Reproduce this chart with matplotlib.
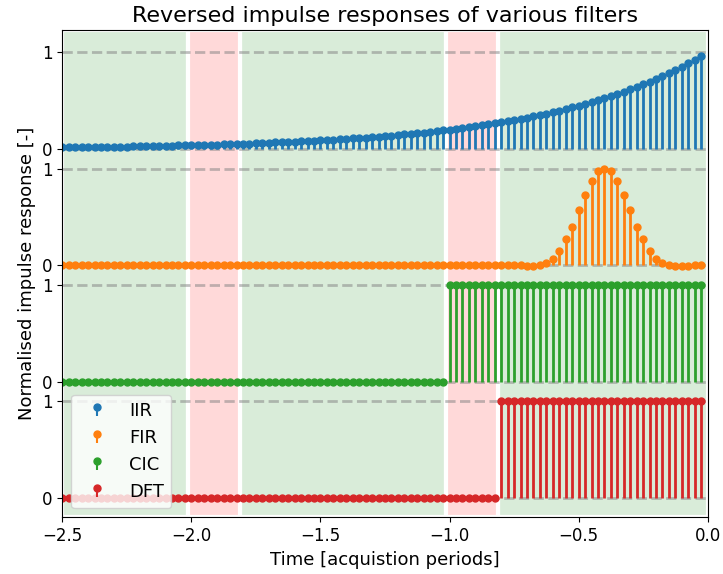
import numpy as np
import matplotlib
matplotlib.use("Agg")
import matplotlib.pyplot as plt

# sample times: 40 samples per acquisition period, 2.5 periods back
t = np.arange(-100, 0) / 40

iir = [0.018, 0.019, 0.020, 0.021, 0.021, 0.022, 0.023, 0.024, 0.025, 0.026,
       0.027, 0.028, 0.030, 0.031, 0.032, 0.033, 0.035, 0.036, 0.038, 0.039,
       0.041, 0.042, 0.044, 0.046, 0.048, 0.050, 0.052, 0.054, 0.056, 0.058,
       0.061, 0.063, 0.066, 0.069, 0.071, 0.074, 0.077, 0.080, 0.084, 0.087,
       0.091, 0.094, 0.098, 0.102, 0.106, 0.111, 0.115, 0.120, 0.125, 0.130,
       0.135, 0.141, 0.147, 0.153, 0.159, 0.165, 0.172, 0.179, 0.186, 0.194,
       0.202, 0.210, 0.219, 0.228, 0.237, 0.247, 0.257, 0.267, 0.278, 0.289,
       0.301, 0.313, 0.326, 0.340, 0.353, 0.368, 0.383, 0.399, 0.415, 0.432,
       0.449, 0.468, 0.487, 0.507, 0.527, 0.549, 0.571, 0.595, 0.619, 0.644,
       0.670, 0.698, 0.726, 0.756, 0.787, 0.819, 0.852, 0.887, 0.923, 0.961]

fir = ([0.0] * 72
       + [-0.003, -0.007, 0.0,
          0.024, 0.07, 0.15, 0.27, 0.40, 0.57, 0.73, 0.875, 0.97, 1.0,
          0.97, 0.875, 0.73, 0.57, 0.40, 0.27, 0.15, 0.07, 0.024,
          0.003, -0.007, -0.007, -0.003, 0.0, 0.0])

cic = [0] * 60 + [1] * 40
dft = [0] * 68 + [1] * 32

names = ['IIR', 'FIR', 'CIC', 'DFT']
series = [iir, fir, cic, dft]
colors = ['C0', 'C1', 'C2', 'C3']
offsets = [3.6, 2.4, 1.2, 0.0]

# good / bad regions
good_spans = [(-2.5, -2.0125), (-1.8125, -1.0125), (-0.8125, 0.0)]
bad_spans = [(-2.0125, -1.8125), (-1.0125, -0.8125)]

fig = plt.figure(figsize=(7.23, 5.74), dpi=100)
ax = fig.add_axes([0.0862, 0.0988, 0.8926, 0.8489])

for a, b in good_spans:
    ax.axvspan(a, b, facecolor=(0, 0.5, 0, 0.15), edgecolor='white', linewidth=3, zorder=0)
for a, b in bad_spans:
    ax.axvspan(a, b, facecolor=(1, 0, 0, 0.15), edgecolor='white', linewidth=3, zorder=0)

for off in offsets:
    ax.axhline(off, color='gray', alpha=0.5, ls='--', lw=2, zorder=1)
    ax.axhline(off + 1, color='gray', alpha=0.5, ls='--', lw=2, zorder=1)

for name, y, c, off in zip(names, series, colors, offsets):
    ml, sl, bl = ax.stem(t, np.array(y) + off, bottom=off, linefmt=c + '-',
                         markerfmt=c + 'o', basefmt=' ', label=name)
    ml.set_markersize(5)
    sl.set_linewidth(2)

ticks = []
for off in offsets:
    ticks += [off, off + 1]
ax.set_yticks(ticks)
ax.set_yticklabels(['0', '1'] * 4)
ax.tick_params(labelsize=12)

ax.set_xlim(-2.5, 0)
ax.set_ylim(-0.2, 4.83)
ax.set_xlabel('Time [acquistion periods]', fontsize=13)
ax.set_ylabel('Normalised impulse response [-]', fontsize=13)
ax.set_title('Reversed impulse responses of various filters', fontsize=16)
ax.legend(loc='lower left', fontsize=13)

fig.savefig('out.png', dpi=100)
